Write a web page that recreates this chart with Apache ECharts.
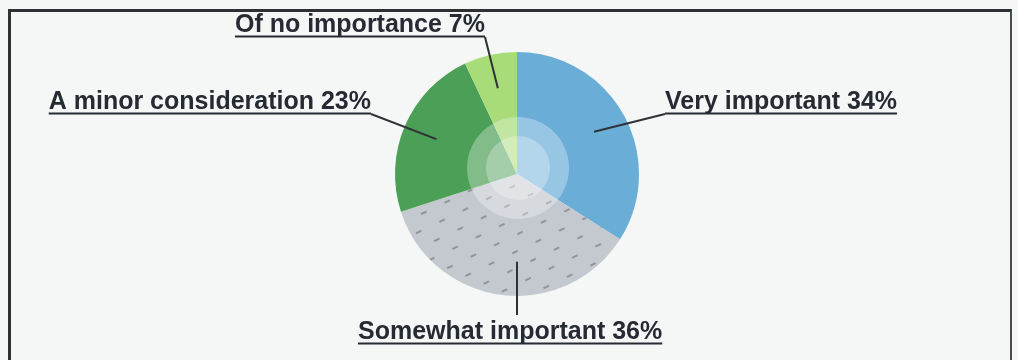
<!DOCTYPE html>
<html>
<head>
<meta charset="utf-8">
<script src="https://cdn.jsdelivr.net/npm/echarts@6/dist/echarts.min.js"></script>
<style>
  html, body { margin: 0; padding: 0; background: #f5f7f6; }
  #frame {
    position: absolute; left: 8px; top: 9px; width: 999px; height: 380px;
    border-top: 3px solid #2e3133; border-left: 3px solid #2e3133; border-right: 2px solid #4a4d50;
  }
  #chart { position: absolute; left: 0; top: 0; width: 1018px; height: 360px; }
</style>
</head>
<body>
<div id="frame"></div>
<div id="chart"></div>
<script>
// Survey answers and their shares (percent)
const categories = ['Very important', 'Somewhat important', 'A minor consideration', 'Of no importance'];
const shares = [34, 36, 23, 7];

// Styling, kept apart from the data
const sliceColors = ['#6aaed8', '#c4c9cf', '#4b9f56', '#a7dc79'];
const CENTER = [517, 174];
const RADIUS = 122;
// label anchor: [x, underline bottom y, align, straight drop]
const labelAnchors = [
  [665, 115, 'left', false],
  [358, 345, 'left', true],
  [371, 115, 'right', false],
  [485, 38, 'right', false]
];
const TEXT_COLOR = '#262a33';
const LINE_COLOR = '#2f3236';

const chart = echarts.init(document.getElementById('chart'), null, { renderer: 'canvas' });

const sliceData = categories.map((name, i) => ({
  name,
  value: shares[i],
  itemStyle: Object.assign(
    { color: sliceColors[i] },
    i === 1 ? {
      decal: {
        symbol: 'rect',
        symbolSize: 1,
        color: 'rgba(100,105,113,0.55)',
        dashArrayX: [[6, 20], [0, 13, 6, 7]],
        dashArrayY: [1.6, 13],
        rotation: -0.45
      }
    } : {}
  )
}));

// Same values again, transparent, carrying the labels and their lines above the slices
const labelData = categories.map((name, i) => ({
  name,
  value: shares[i],
  itemStyle: { color: 'rgba(0,0,0,0)' }
}));

chart.setOption({
  animation: false,
  series: [
    {
      type: 'pie',
      center: CENTER,
      radius: RADIUS,
      startAngle: 90,
      clockwise: true,
      silent: true,
      data: sliceData,
      label: { show: false },
      labelLine: { show: false },
      emphasis: { disabled: true }
    },
    {
      // pale inner rings over the middle of the pie
      type: 'pie',
      center: [518, 168],
      radius: 51,
      silent: true,
      label: { show: false },
      labelLine: { show: false },
      data: [{ value: 1, itemStyle: { color: 'rgba(255,255,255,0.3)' } }],
      emphasis: { disabled: true }
    },
    {
      type: 'pie',
      center: [518, 168],
      radius: 32,
      silent: true,
      label: { show: false },
      labelLine: { show: false },
      data: [{ value: 1, itemStyle: { color: 'rgba(255,255,255,0.28)' } }],
      emphasis: { disabled: true }
    },
    {
      type: 'pie',
      z: 3,
      center: CENTER,
      radius: RADIUS,
      startAngle: 90,
      clockwise: true,
      silent: true,
      avoidLabelOverlap: false,
      data: labelData,
      label: {
        show: true,
        position: 'outside',
        formatter: p => `{t|${p.name} ${p.value}%}\n{u|}`,
        rich: {
          t: {
            fontFamily: '"Liberation Sans", Arial, sans-serif',
            fontSize: 25,
            fontWeight: 'bold',
            color: TEXT_COLOR,
            lineHeight: 19
          },
          u: {
            width: '100%',
            height: 2,
            lineHeight: 3,
            backgroundColor: TEXT_COLOR
          }
        }
      },
      labelLine: {
        show: true,
        showAbove: true,
        length: 10,
        length2: 10,
        smooth: false,
        lineStyle: { color: LINE_COLOR, width: 2 }
      },
      labelLayout: params => {
        const [x, y, align, drop] = labelAnchors[params.dataIndex];
        const p0 = params.labelLinePoints[0];
        let points;
        if (drop) {
          // straight drop from the slice down to just above the text
          const top = y - 30;
          points = [[CENTER[0], CENTER[1] + RADIUS * 0.72], [CENTER[0], top], [CENTER[0], top]];
        } else {
          const start = [
            CENTER[0] + (p0[0] - CENTER[0]) * 0.72,
            CENTER[1] + (p0[1] - CENTER[1]) * 0.72
          ];
          const elbow = [x, y - 1];
          points = [start, elbow, elbow];
        }
        return { x, y, align, verticalAlign: 'bottom', labelLinePoints: points };
      },
      emphasis: { disabled: true }
    }
  ]
});
</script>
</body>
</html>
